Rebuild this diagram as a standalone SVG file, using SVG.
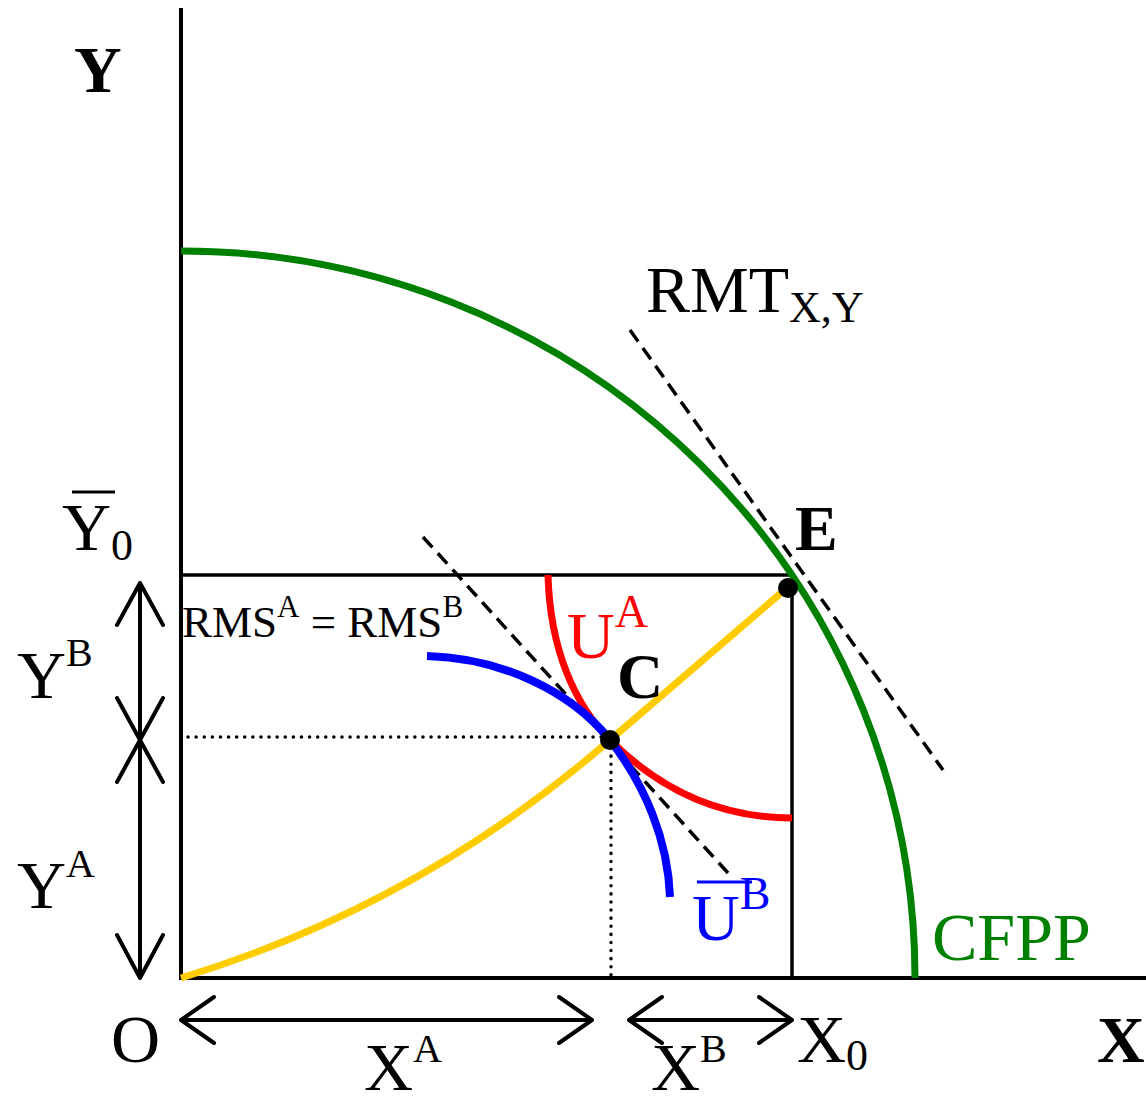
<svg xmlns="http://www.w3.org/2000/svg" width="1146" height="1106" viewBox="0 0 1146 1106">
<style>
text{font-family:"Liberation Serif","Times New Roman",serif;}
.b{font-weight:bold;}
.ax{stroke:#000;stroke-width:4;fill:none;}
.ln{stroke:#000;stroke-width:3.5;fill:none;}
.arr{stroke:#000;stroke-width:4;fill:none;stroke-linecap:round;stroke-linejoin:round;}
.dash{stroke:#000;stroke-width:3.5;fill:none;stroke-dasharray:14 8;}
.dot{stroke:#000;stroke-width:3.5;fill:none;stroke-dasharray:0.1 8;stroke-linecap:round;}
</style>
<rect width="1146" height="1106" fill="#fff"/>
<g id="axes">
<line class="ax" x1="181" y1="8" x2="181" y2="980"/>
<line class="ax" x1="179" y1="978" x2="1146" y2="978"/>
</g>
<g id="connectors">
<line class="ln" x1="181" y1="575" x2="792" y2="575"/>
<line class="ln" x1="792" y1="575" x2="792" y2="978"/>
<line class="dot" x1="188" y1="737" x2="606" y2="737"/>
<line class="dot" x1="611" y1="748" x2="611" y2="976"/>
<line class="dash" x1="423" y1="537" x2="728" y2="873"/>
<line class="dash" x1="630" y1="330" x2="943" y2="770"/>
<path class="arr" d="M140,583 L140,978 M117,625 L140,583 L163,625 M117,935 L140,978 L163,935 M117,698 L163,782 M163,698 L117,782"/>
<path class="arr" d="M181,1020 L592,1020 M214,997 L181,1020 L214,1043 M559,997 L592,1020 L559,1043"/>
<path class="arr" d="M629,1020 L792,1020 M662,997 L629,1020 L662,1043 M759,997 L792,1020 L759,1043"/>
</g>
<g id="cfpp">
<path d="M181,251 A734,727 0 0 1 915,978" fill="none" stroke="#008000" stroke-width="7"/>
<text x="932" y="960" font-size="68" fill="#008000">CFPP</text>
</g>
<g id="contract">
<path d="M181,978 Q420,905 610,740 L788,587" fill="none" stroke="#FFCC00" stroke-width="7"/>
</g>
<g id="ua">
<path d="M548,575 C550,650 575,705 610,740 C660,790 720,818 792,818" fill="none" stroke="#FF0000" stroke-width="7"/>
<text x="567" y="658" font-size="66" fill="#FF0000">U<tspan font-size="46" dy="-31">A</tspan></text>
</g>
<g id="ub">
<path d="M427,656 C500,658 570,690 610,740 C645,785 668,840 670,897" fill="none" stroke="#0000FF" stroke-width="8"/>
<text x="692" y="940" font-size="66" fill="#0000FF">U<tspan font-size="46" dy="-31">B</tspan></text>
<line x1="697" y1="882" x2="752" y2="882" stroke="#0000FF" stroke-width="3"/>
</g>
<g id="pointC">
<circle cx="610" cy="740" r="10" fill="#000"/>
<text class="b" x="617" y="698" font-size="64">C</text>
</g>
<g id="pointE">
<circle cx="788" cy="588" r="10" fill="#000"/>
<text class="b" x="795" y="550" font-size="64">E</text>
</g>
<g id="labels">
<text class="b" x="74" y="92" font-size="66">Y</text>
<text x="1097" y="1062" class="b" font-size="66">X</text>
<text x="62" y="550" font-size="68">Y<tspan font-size="44" dy="10">0</tspan></text>
<line x1="72" y1="492" x2="115" y2="492" stroke="#000" stroke-width="3"/>
<text x="17" y="698" font-size="68">Y<tspan font-size="40" dy="-32">B</tspan></text>
<text x="17" y="908" font-size="68">Y<tspan font-size="40" dy="-31">A</tspan></text>
<text x="111" y="1062" font-size="68">O</text>
<text x="364" y="1090" font-size="68">X<tspan font-size="40" dy="-28">A</tspan></text>
<text x="651" y="1090" font-size="68">X<tspan font-size="40" dy="-28">B</tspan></text>
<text x="797" y="1062" font-size="68">X<tspan font-size="44" dy="8">0</tspan></text>
<text x="182" y="637" font-size="45">RMS<tspan font-size="31" dy="-20">A</tspan><tspan dy="20"> = RMS</tspan><tspan font-size="31" dy="-20">B</tspan></text>
<text x="646" y="312" font-size="66">RMT<tspan font-size="44" dy="10">X,Y</tspan></text>
</g>
</svg>
